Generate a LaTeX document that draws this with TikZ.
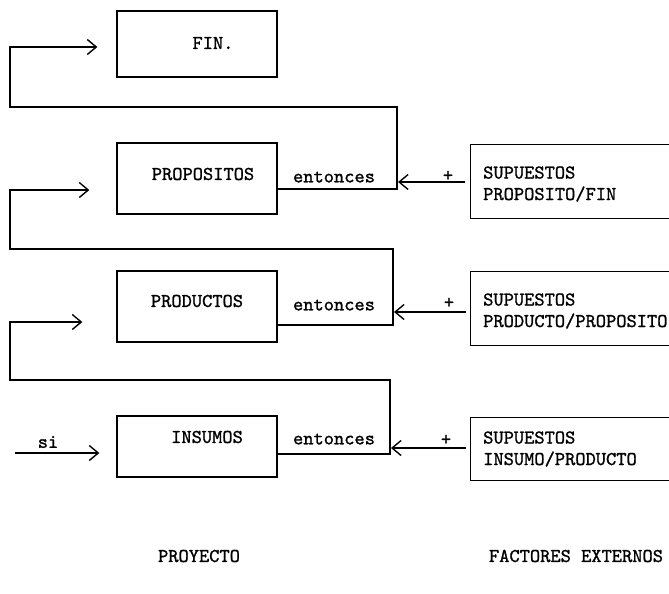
\documentclass[tikz,border=0pt]{standalone}
\usepackage{fontspec}
\usetikzlibrary{arrows.meta}
% typewriter face, slightly heavier than the stock one
\newfontfamily\typer{lmmono10-regular.otf}[FakeBold=1.2]
\begin{document}
\begin{tikzpicture}[x=1pt,y=-1pt,
  every node/.style={font=\typer\fontsize{19.5}{21.5}\selectfont, inner sep=0pt},
  blockbox/.style={draw, line width=1.3pt, minimum width=160pt},
  openbox/.style={minimum width=198pt},
  wire/.style={line width=1.3pt},
  barb/.style={wire, -{Straight Barb[length=9pt,width=15pt,line width=1.4pt]}},
]
\useasboundingbox (0,0) rectangle (669,594);

% project levels
\node[blockbox, minimum height=66pt] (fin)  at (197,44)    {};
\node[blockbox, minimum height=71pt] (prop) at (197,178.5) {};
\node[blockbox, minimum height=71pt] (prod) at (197,306.5) {};
\node[blockbox, minimum height=61pt] (ins)  at (197,446.5) {};

\node (finT)  at (213,43)  {FIN.};
\node (propT) at (203,174) {PROPOSITOS};
\node (prodT) at (197,301) {PRODUCTOS};
\node (insT)  at (207,437) {INSUMOS};

% external assumptions (open on the right)
\node[openbox, minimum height=73pt] (s1) at (570,181.5) {};
\node[openbox, minimum height=73pt] (s2) at (570,308.5) {};
\node[openbox, minimum height=62pt] (s3) at (570,449)   {};
\foreach \s in {s1,s2,s3}
  \draw[wire] (\s.north east) -- (\s.north west) -- (\s.south west) -- (\s.south east);

\node[anchor=west, align=left] (s1T) at (483,184) {SUPUESTOS\\PROPOSITO/FIN};
\node[anchor=west, align=left] (s2T) at (483,311) {SUPUESTOS\\PRODUCTO/PROPOSITO};
\node[anchor=west, align=left] (s3T) at (483,449) {SUPUESTOS\\INSUMO/PRODUCTO};

% "entonces" links
\node (e1) at (334,177) {entonces};
\node (e2) at (334,305) {entonces};
\node (e3) at (334,439) {entonces};

\coordinate (j1) at (397,189);
\coordinate (j2) at (393,325);
\coordinate (j3) at (390,454);

% feedback loops to the next level up
\coordinate (c1a) at (397,107);
\coordinate (c1b) at (10,107);
\coordinate (c1c) at (10,47);
\draw[barb, shorten >=19pt] (prop.east |- j1) -- (j1) -- (c1a) -- (c1b) -- (c1c) -- (fin.west |- c1c);

\coordinate (c2a) at (393,249);
\coordinate (c2b) at (10,249);
\coordinate (c2c) at (10,190);
\draw[barb, shorten >=27pt] (prod.east |- j2) -- (j2) -- (c2a) -- (c2b) -- (c2c) -- (prop.west |- c2c);

\coordinate (c3a) at (390,380);
\coordinate (c3b) at (10,380);
\coordinate (c3c) at (10,322);
\draw[barb, shorten >=34pt] (ins.east |- j3) -- (j3) -- (c3a) -- (c3b) -- (c3c) -- (prod.west |- c3c);

% assumption arrows
\coordinate (t1) at (398,182);
\coordinate (t2) at (394,312);
\coordinate (t3) at (391,448);
\draw[barb, shorten <=6pt] (s1.west |- t1) -- (t1);
\draw[barb, shorten <=5pt] (s2.west |- t2) -- (t2);
\draw[barb, shorten <=5pt] (s3.west |- t3) -- (t3);
\node (p1) at (448,176) {+};
\node (p2) at (449,303) {+};
\node (p3) at (446,440) {+};

% entry arrow
\coordinate (in0) at (15,453);
\draw[barb, shorten >=17pt] (in0) -- (ins.west |- in0);
\node (si) at (48,442) {si};

% column captions
\node (proy) at (199,556) {PROYECTO};
\node (fact) at (576,556) {FACTORES EXTERNOS};
\end{tikzpicture}
\end{document}
